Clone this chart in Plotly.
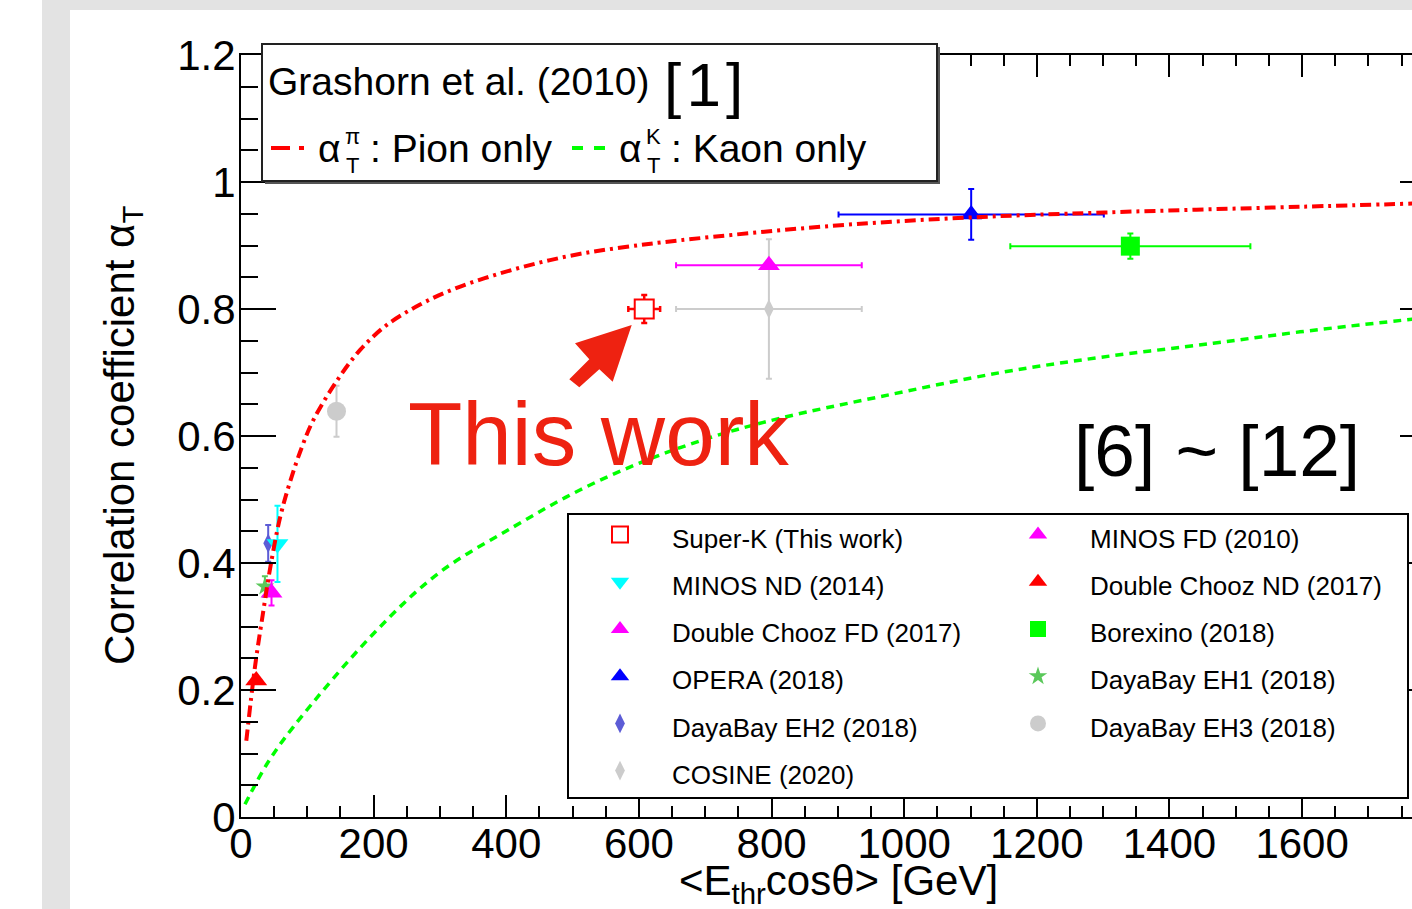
import plotly.graph_objects as go

# ---------------- data ----------------
# Theory curves (Grashorn et al. 2010)
pion_x = [8, 21, 33, 44, 59, 74, 92, 109, 144, 180, 220, 270, 320, 381, 446, 512, 582, 660, 892, 1097, 1302, 1597, 1766]
pion_y = [0.12, 0.236, 0.32, 0.392, 0.472, 0.528, 0.583, 0.625, 0.686, 0.736, 0.775, 0.807, 0.831, 0.853, 0.872,
          0.887, 0.898, 0.908, 0.931, 0.944, 0.952, 0.961, 0.966]
kaon_x = [6, 40, 79, 200, 298, 411, 511, 612, 712, 813, 964, 1146, 1297, 1466, 1597, 1766]
kaon_y = [0.02, 0.085, 0.142, 0.289, 0.384, 0.457, 0.515, 0.562, 0.599, 0.628, 0.662, 0.700, 0.724, 0.746, 0.764, 0.784]

# Measurements
exp_names = ["Super-K (This work)", "MINOS ND (2014)", "Double Chooz FD (2017)", "OPERA (2018)",
             "DayaBay EH2 (2018)", "COSINE (2020)", "MINOS FD (2010)", "Double Chooz ND (2017)",
             "Borexino (2018)", "DayaBay EH1 (2018)", "DayaBay EH3 (2018)"]
exp_x = [608, 55, 46, 1101, 41, 796, 796, 23, 1341, 36, 144]
exp_y = [0.80, 0.43, 0.353, 0.949, 0.431, 0.80, 0.869, 0.215, 0.899, 0.363, 0.639]
exp_ex = [24, 0, 0, 200, 0, 140, 140, 0, 181, 0, 0]
exp_ey = [0.022, 0.06, 0.02, 0.04, 0.029, 0.11, 0.0, 0.0, 0.02, 0.016, 0.04]

x_tick_step = 200
y_tick_step = 0.2

# ---------------- styling ----------------
FONT = "Liberation Sans, Arial, Helvetica, sans-serif"
styles = {
    "Super-K (This work)":    dict(symbol="square", color="white", line="#ff0000", size=19, rank=1, ecol="#ff0000"),
    "MINOS FD (2010)":        dict(symbol="triangle-up", color="#ff00ff", line="#ff00ff", size=19, rank=2, ecol="#ff00ff"),
    "MINOS ND (2014)":        dict(symbol="triangle-down", color="#00ffff", line="#00ffff", size=19, rank=3, ecol="#00ffff"),
    "Double Chooz ND (2017)": dict(symbol="triangle-up", color="#ff0000", line="#ff0000", size=19, rank=4, ecol="#ff0000"),
    "Double Chooz FD (2017)": dict(symbol="triangle-up", color="#ff00ff", line="#ff00ff", size=19, rank=5, ecol="#ff00ff"),
    "Borexino (2018)":        dict(symbol="square", color="#00ff00", line="#00ff00", size=19, rank=6, ecol="#00ff00"),
    "OPERA (2018)":           dict(symbol="triangle-up", color="#0000ff", line="#0000ff", size=19, rank=7, ecol="#0000ff"),
    "DayaBay EH1 (2018)":     dict(symbol="star", color="#5ac85a", line="#5ac85a", size=14, rank=8, ecol="#5ac85a"),
    "DayaBay EH2 (2018)":     dict(symbol="diamond-tall", color="#5c5cd6", line="#5c5cd6", size=14, rank=9, ecol="#5c5cd6"),
    "DayaBay EH3 (2018)":     dict(symbol="circle", color="#cccccc", line="#cccccc", size=19, rank=10, ecol="#cccccc"),
    "COSINE (2020)":          dict(symbol="diamond-tall", color="#cccccc", line="#cccccc", size=14, rank=11, ecol="#cccccc"),
}
draw_order = ["COSINE (2020)", "DayaBay EH3 (2018)", "DayaBay EH1 (2018)", "DayaBay EH2 (2018)",
              "MINOS ND (2014)", "Double Chooz FD (2017)", "Double Chooz ND (2017)", "MINOS FD (2010)",
              "OPERA (2018)", "Borexino (2018)", "Super-K (This work)"]

# plot area in pixels
W, H = 1412, 909
L, T, B = 241, 55, 92
PW, PH = W - L, H - T - B
XMAX = PW / 0.6632


def pxx(px):
    return (px - L) / PW


def pxy(py):
    return (T + PH - py) / PH


fig = go.Figure()

for name in draw_order:
    i = exp_names.index(name)
    s = styles[name]
    sk = name.startswith("Super")
    fig.add_trace(go.Scatter(
        x=[exp_x[i]], y=[exp_y[i]], mode="markers",
        name='<span style="font-size:26px">' + name + '</span>',
        legendrank=s["rank"],
        marker=dict(symbol=s["symbol"], size=s["size"], color=s["color"],
                    line=dict(color=s["line"], width=2 if sk else 0)),
        error_x=dict(type="data", array=[exp_ex[i]], visible=exp_ex[i] > 0, color=s["ecol"],
                     thickness=2.5 if sk else 2, width=3),
        error_y=dict(type="data", array=[exp_ey[i]], visible=exp_ey[i] > 0, color=s["ecol"],
                     thickness=2.5 if sk else 2, width=3),
        hoverinfo="skip",
    ))

fig.add_trace(go.Scatter(x=kaon_x, y=kaon_y, mode="lines", showlegend=False, hoverinfo="skip",
                         line=dict(color="#00ff00", width=3.5, dash="8px,6px", shape="spline", smoothing=1.0)))
fig.add_trace(go.Scatter(x=pion_x, y=pion_y, mode="lines", showlegend=False, hoverinfo="skip",
                         line=dict(color="#ff0000", width=4, dash="11px,5px,3px,5px", shape="spline", smoothing=1.0)))
# invisible trace carrying the right-hand tick axis
fig.add_trace(go.Scatter(x=[None], y=[None], yaxis="y2", showlegend=False, hoverinfo="skip"))

axis_font = dict(family=FONT, size=42, color="black")
fig.update_layout(
    width=W, height=H, autosize=False,
    margin=dict(l=L, r=0, t=T, b=B, pad=0),
    paper_bgcolor="white", plot_bgcolor="white",
    font=dict(family=FONT, color="black"),
    xaxis=dict(range=[0, XMAX], showline=True, linecolor="black", linewidth=2, mirror="ticks",
               ticks="inside", ticklen=22, tickwidth=2, tickcolor="black", ticklabelstandoff=-11,
               tick0=0, dtick=x_tick_step, tickfont=axis_font, showgrid=False, zeroline=False,
               minor=dict(dtick=50, ticklen=11, tickwidth=1.5, ticks="inside", tickcolor="black", showgrid=False)),
    yaxis=dict(range=[0, 1.2], showline=True, linecolor="black", linewidth=2, mirror=False,
               ticks="inside", ticklen=35, tickwidth=2, tickcolor="black", ticklabelstandoff=-5,
               tick0=0, dtick=y_tick_step, tickfont=axis_font, showgrid=False, zeroline=False,
               minor=dict(dtick=0.05, ticklen=17, tickwidth=1.5, ticks="inside", tickcolor="black", showgrid=False)),
    yaxis2=dict(range=[0, 1.2], overlaying="y", side="right", anchor="x", showline=False,
                ticks="inside", ticklen=12, tickwidth=2, tickcolor="black", tick0=0, dtick=y_tick_step,
                showticklabels=False, showgrid=False, zeroline=False),
    showlegend=True,
    legend=dict(orientation="h", x=pxx(568), y=pxy(506), xanchor="left", yanchor="top",
                entrywidth=309, entrywidthmode="pixels", itemwidth=94,
                font=dict(family=FONT, size=34, color="black"),
                bgcolor="rgba(0,0,0,0)", borderwidth=0, traceorder="normal",
                itemclick=False, itemdoubleclick=False),
)

shapes = []
# page background strips
shapes.append(dict(type="rect", xref="paper", yref="paper", x0=pxx(42), x1=pxx(70), y0=pxy(0), y1=pxy(H),
                   fillcolor="#e3e3e3", line=dict(width=0), layer="below"))
shapes.append(dict(type="rect", xref="paper", yref="paper", x0=pxx(42), x1=pxx(W), y0=pxy(0), y1=pxy(10),
                   fillcolor="#e3e3e3", line=dict(width=0), layer="below"))
# top legend box with shadow
shapes.append(dict(type="rect", xref="paper", yref="paper", x0=pxx(265), x1=pxx(940), y0=pxy(184), y1=pxy(47),
                   fillcolor="#555555", line=dict(width=0)))
shapes.append(dict(type="rect", xref="paper", yref="paper", x0=pxx(262), x1=pxx(937), y0=pxy(181), y1=pxy(44),
                   fillcolor="white", line=dict(color="#222222", width=2)))
shapes.append(dict(type="line", xref="paper", yref="paper", x0=pxx(271), x1=pxx(305), y0=pxy(148), y1=pxy(148),
                   line=dict(color="#ff0000", width=4, dash="19px,9px,5px,9px")))
shapes.append(dict(type="line", xref="paper", yref="paper", x0=pxx(572), x1=pxx(605), y0=pxy(148), y1=pxy(148),
                   line=dict(color="#00ff00", width=4, dash="11px,11px")))
# bottom legend box
shapes.append(dict(type="rect", xref="paper", yref="paper", x0=pxx(568), x1=pxx(1408), y0=pxy(798), y1=pxy(514),
                   fillcolor="white", line=dict(color="black", width=2)))
# red arrow pointing to "This work" point
arrow_px = [(631.7, 325), (575, 343.3), (589.3, 359.3), (569.3, 379.3), (579.3, 387.3), (599.3, 369.3), (612.7, 381.7)]
path = "M " + " L ".join(f"{pxx(a):.5f},{pxy(b):.5f}" for a, b in arrow_px) + " Z"
shapes.append(dict(type="path", xref="paper", yref="paper", path=path, fillcolor="#ee2211", line=dict(width=0)))
fig.update_layout(shapes=shapes)


def ann(text, px, py, size, color="black", xanchor="left", yanchor="middle", angle=0):
    fig.add_annotation(text=text, x=pxx(px), y=pxy(py), xref="paper", yref="paper", showarrow=False,
                       xanchor=xanchor, yanchor=yanchor, textangle=angle,
                       font=dict(family=FONT, size=size, color=color))


ann("Grashorn et al. (2010)", 266, 81, 39)
ann("[\u200a1\u200a]", 703, 84, 62, xanchor="center")
ann("α", 316, 148, 39)
ann("π", 343, 136, 22)
ann("T", 344, 165, 22)
ann(": Pion only", 368, 148, 39)
ann("α", 617, 148, 39)
ann("K", 644, 136, 22)
ann("T", 645, 165, 22)
ann(": Kaon only", 669, 148, 39)
ann("This work", 406, 434, 89, color="#ee2211")
ann("[6] ~ [12]", 1217, 450, 73, xanchor="center")
ann("Correlation coefficient α<sub>T</sub>", 122, 436, 42, xanchor="center", angle=-90)
ann("&lt;E<sub>thr</sub>cosθ&gt; [GeV]", 838, 883, 42, xanchor="center")

fig.write_html("out.html", config={"displayModeBar": False},
               post_script="document.body.style.margin='0';document.body.style.overflow='hidden';")
